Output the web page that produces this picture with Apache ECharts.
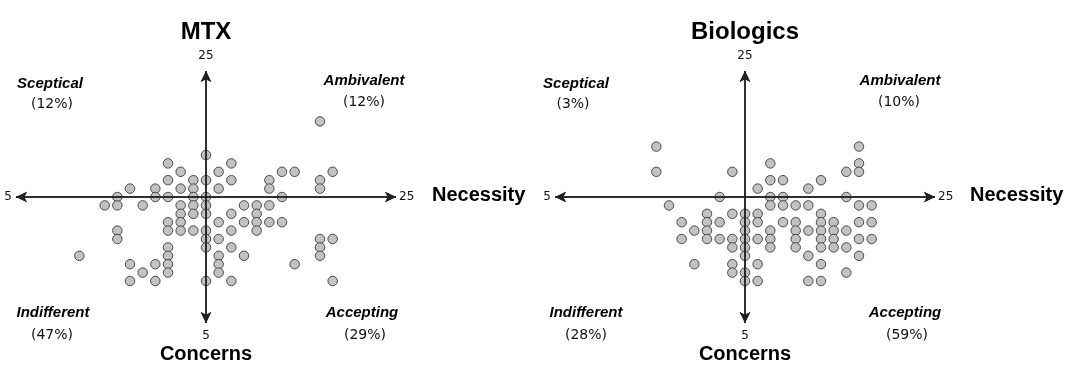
<!DOCTYPE html>
<html>
<head>
<meta charset="utf-8">
<script src="https://cdn.jsdelivr.net/npm/echarts@6/dist/echarts.min.js"></script>
<style>
html,body{margin:0;padding:0;background:#fff;}
#chart{width:1076px;height:373px;}
</style>
</head>
<body>
<div id="chart"></div>
<script>
// ---- data ----
const panelTitles = ['MTX', 'Biologics'];
const axisTickLabels = ['5', '25'];
const axisMid = 15;
const xAxisName = 'Necessity';
const yAxisName = 'Concerns';
const quadrantNames = ['Sceptical', 'Ambivalent', 'Indifferent', 'Accepting'];
const mtxQuadrantPct = ['(12%)', '(12%)', '(47%)', '(29%)'];
const bioQuadrantPct = ['(3%)', '(10%)', '(28%)', '(59%)'];

const mtxNecessity = [24,15,12,17,13,16,21,22,25,12,14,15,17,20,24,9,11,13,14,16,20,24,8,11,12,14,15,21,7,8,10,13,14,15,18,19,20,13,14,15,17,19,12,13,16,18,19,20,21,8,12,13,14,15,17,19,8,15,16,24,25,12,15,17,24,5,12,16,18,24,9,11,12,16,22,10,12,16,9,11,15,17,25];
const mtxConcerns  = [24,20,19,19,18,18,18,18,18,17,17,17,17,17,17,16,16,16,16,16,16,16,15,15,15,15,15,15,14,14,14,14,14,14,14,14,14,13,13,13,13,13,12,12,12,12,12,12,12,11,11,11,11,11,11,11,10,10,10,10,10,9,9,9,9,8,8,8,8,8,7,7,7,7,7,6,6,6,5,5,5,5,5];

const bioNecessity = [8,24,17,24,8,14,23,24,17,18,21,16,20,13,17,18,23,9,17,18,19,20,24,25,12,14,15,16,21,10,12,13,15,16,18,19,21,22,24,25,11,12,15,17,19,20,21,22,23,10,12,13,14,15,16,17,19,21,22,24,25,14,15,17,19,21,22,23,15,20,24,11,14,16,21,14,15,23,15,16,20,21];
const bioConcerns  = [21,21,19,19,18,18,18,18,17,17,17,16,16,15,15,15,15,14,14,14,14,14,14,14,13,13,13,13,13,12,12,12,12,12,12,12,12,12,12,12,11,11,11,11,11,11,11,11,11,10,10,10,10,10,10,10,10,10,10,10,10,9,9,9,9,9,9,9,8,8,8,7,7,7,7,6,6,6,5,5,5,5];

// ---- layout ----
const panels = [
  {left: 16, center: 206, nec: mtxNecessity, con: mtxConcerns, pct: mtxQuadrantPct,
   q: [[50,84,52,104],[364,81,364,102],[53,313,52,335],[362,313,365,335]], axisNameX: 432},
  {left: 555, center: 745, nec: bioNecessity, con: bioConcerns, pct: bioQuadrantPct,
   q: [[576,84,573,104],[900,81,899,102],[586,313,586,335],[905,313,907,335]], axisNameX: 970}
];
const gridTop = 71, gridHeight = 252, gridWidth = 380;

const grids = [], xAxes = [], yAxes = [], series = [], graphics = [];
panels.forEach((p, i) => {
  grids.push({left: p.left, top: gridTop, width: gridWidth, height: gridHeight});
  xAxes.push({type: 'value', gridIndex: i, min: 0, max: 30, show: false});
  yAxes.push({type: 'value', gridIndex: i, min: 0, max: 30, show: false});
  const tickLabel = {color: '#111', fontFamily: 'DejaVu Sans', fontSize: 12};
  series.push({
    type: 'scatter', xAxisIndex: i, yAxisIndex: i,
    data: p.nec.map((v, k) => [v, p.con[k]]),
    symbol: 'circle', symbolSize: 9.5,
    itemStyle: {color: '#c2c2c2', borderColor: '#2a2a2a', borderWidth: 0.8, opacity: 1},
    emphasis: {disabled: true},
    z: 3,
    markLine: {
      silent: true, animation: false,
      symbol: ['arrow', 'arrow'], symbolSize: [8, 11],
      lineStyle: {color: '#222', width: 1.5, type: 'solid'},
      emphasis: {disabled: true},
      data: [
        {xAxis: axisMid, label: Object.assign({show: true, position: 'start', formatter: axisTickLabels[0], distance: 7}, tickLabel)},
        {xAxis: axisMid, label: Object.assign({show: true, position: 'end', formatter: axisTickLabels[1], distance: 9}, tickLabel)},
        {yAxis: axisMid, label: Object.assign({show: true, position: 'start', formatter: axisTickLabels[0], distance: 4}, tickLabel)},
        {yAxis: axisMid, label: Object.assign({show: true, position: 'end', formatter: axisTickLabels[1], distance: 3}, tickLabel)}
      ]
    }
  });
  // title
  graphics.push({type: 'text', x: p.center, y: 32, style: {text: panelTitles[i], fill: '#000',
    font: 'bold 24px "Liberation Sans", Arial, sans-serif', textAlign: 'center', textVerticalAlign: 'middle'}});
  // axis names
  graphics.push({type: 'text', x: p.axisNameX, y: 195, style: {text: xAxisName, fill: '#000',
    font: 'bold 20px "Liberation Sans", Arial, sans-serif', textAlign: 'left', textVerticalAlign: 'middle'}});
  graphics.push({type: 'text', x: p.center, y: 354, style: {text: yAxisName, fill: '#000',
    font: 'bold 20px "Liberation Sans", Arial, sans-serif', textAlign: 'center', textVerticalAlign: 'middle'}});
  // quadrant labels
  p.q.forEach((pos, k) => {
    graphics.push({type: 'text', x: pos[0], y: pos[1], style: {text: quadrantNames[k], fill: '#000',
      font: 'italic bold 15px "Liberation Sans", Arial, sans-serif', textAlign: 'center', textVerticalAlign: 'middle'}});
    graphics.push({type: 'text', x: pos[2], y: pos[3], style: {text: p.pct[k], fill: '#111',
      font: '14px "DejaVu Sans", sans-serif', textAlign: 'center', textVerticalAlign: 'middle'}});
  });
});

const chart = echarts.init(document.getElementById('chart'), null, {renderer: 'canvas'});
chart.setOption({
  animation: false,
  backgroundColor: '#fff',
  grid: grids, xAxis: xAxes, yAxis: yAxes, series: series,
  graphic: graphics
});
</script>
</body>
</html>
